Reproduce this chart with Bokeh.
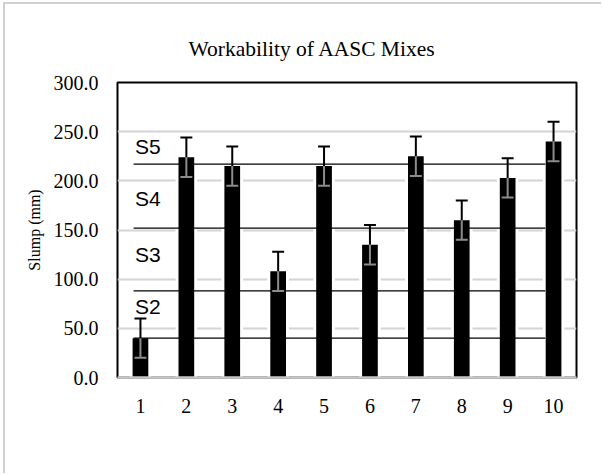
from bokeh.plotting import figure
from bokeh.models import (FixedTicker, PrintfTickFormatter, Title,
                          ColumnDataSource, Range1d)
from bokeh.core.properties import value
from bokeh.embed import file_html
from bokeh.resources import INLINE

# ---- data ----
mixes = [1, 2, 3, 4, 5, 6, 7, 8, 9, 10]
slump = [40, 224, 215, 108, 215, 135, 225, 160, 203, 240]
slump_err = [20, 20, 20, 20, 20, 20, 20, 20, 20, 20]
y_ticks = [0, 50, 100, 150, 200, 250, 300]
class_names = ["S2", "S3", "S4", "S5"]
class_lines = [40, 88, 152, 217]
class_label_y = [72, 125, 182, 235]

SERIF = "Liberation Serif"

p = figure(width=598, height=471, output_backend="svg", toolbar_location=None,
           x_range=Range1d(0.5, 10.5), y_range=Range1d(0, 300),
           min_border_left=112, min_border_right=27, min_border_top=78,
           min_border_bottom=98)
p.styles = {"box-shadow": "-2px -2px 0px 0px #d0d0d0",
            "margin-left": "5px", "margin-top": "4px", "background": "white"}

p.title = Title(text="Workability of AASC Mixes", align="left", offset=71,
                text_font=SERIF, text_font_size="21.5px", text_font_style="normal",
                text_color="#000000", standoff=44)

p.outline_line_color = "#000000"
p.outline_line_width = 2
p.background_fill_color = "white"
p.border_fill_color = "white"

# axes
p.xaxis.ticker = FixedTicker(ticks=mixes)
p.yaxis.ticker = FixedTicker(ticks=y_ticks)
p.yaxis.formatter = PrintfTickFormatter(format="%.1f")
for ax in (p.xaxis[0], p.yaxis[0]):
    ax.major_tick_line_color = None
    ax.minor_tick_line_color = None
    ax.major_label_text_font = SERIF
    ax.major_label_text_font_size = "20px"
    ax.major_label_text_color = "#000000"
p.xaxis.axis_line_color = "#c8c8c8"
p.xaxis.axis_line_width = 2.5
p.xaxis.major_label_standoff = 15
p.yaxis.axis_line_color = None
p.yaxis.major_label_standoff = 13
p.yaxis.axis_label = "Slump (mm)"
p.yaxis.axis_label_text_font = SERIF
p.yaxis.axis_label_text_font_size = "16px"
p.yaxis.axis_label_text_font_style = "normal"
p.yaxis.axis_label_text_color = "#000000"
p.yaxis.axis_label_standoff = 8

p.xgrid.grid_line_color = None
p.ygrid.ticker = FixedTicker(ticks=y_ticks[1:-1])
p.ygrid.grid_line_color = "#d4d4d4"
p.ygrid.grid_line_width = 2

src = ColumnDataSource(dict(
    x=mixes, top=slump,
    hi=[v + e for v, e in zip(slump, slump_err)],
    lo=[v - e for v, e in zip(slump, slump_err)],
))

# white halo behind bars (gaps in gridlines), then bars
p.vbar(x="x", top="top", bottom=0, width=0.47, source=src,
       fill_color="white", line_color=None)
p.vbar(x="x", top="top", bottom=0, width=0.342, source=src,
       fill_color="#000000", line_color=None)

# slump class lines and labels
for name, lvl in zip(class_names, class_lines):
    p.line(x=[0.85, 9.82], y=[lvl, lvl], line_color="#000000", line_width=1.2)
p.text(x=[0.88] * len(class_names), y=class_label_y, text=class_names,
       text_font=value("Liberation Sans"), text_font_size="21px",
       text_color="#000000", text_baseline="middle", text_align="left")

# error bars
cap = 0.13
p.segment(x0="x", y0="top", x1="x", y1="hi", source=src,
          line_color="#000000", line_width=2)
p.segment(x0=[m - cap for m in mixes], y0=src.data["hi"],
          x1=[m + cap for m in mixes], y1=src.data["hi"],
          line_color="#000000", line_width=2)
p.segment(x0="x", y0="lo", x1="x", y1="top", source=src,
          line_color="#8c8c8c", line_width=2)
p.segment(x0=[m - cap for m in mixes], y0=src.data["lo"],
          x1=[m + cap for m in mixes], y1=src.data["lo"],
          line_color="#8c8c8c", line_width=2)

open("out.html", "w").write(file_html(p, INLINE))
